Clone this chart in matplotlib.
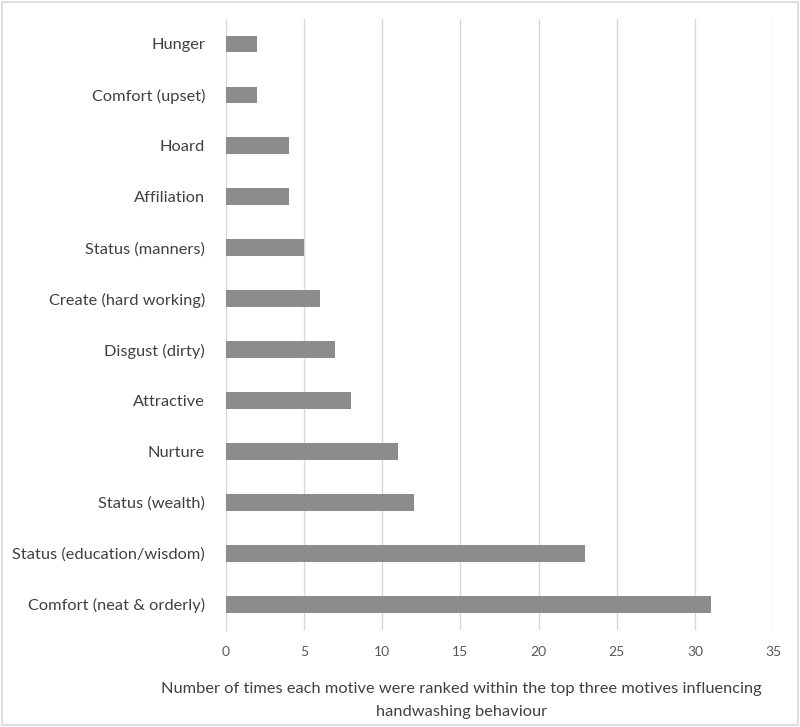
import numpy as np
import matplotlib.pyplot as plt
from matplotlib.patches import Rectangle

plt.rcParams['font.family'] = ['Lato', 'DejaVu Sans']

motives = [
    'Hunger',
    'Comfort (upset)',
    'Hoard',
    'Affiliation',
    'Status (manners)',
    'Create (hard working)',
    'Disgust (dirty)',
    'Attractive',
    'Nurture',
    'Status (wealth)',
    'Status (education/wisdom)',
    'Comfort (neat & orderly)',
]
counts = [2, 2, 4, 4, 5, 6, 7, 8, 11, 12, 23, 31]
xticks = [0, 5, 10, 15, 20, 25, 30, 35]

fig = plt.figure(figsize=(8, 7.27), dpi=100)
axis = fig.add_axes([0.2825, 0.134, 0.6838, 0.8405])

y = np.arange(len(motives))
axis.barh(y, counts, height=0.33, color='#8c8c8c', zorder=3)

axis.set_xlim(0, 35)
axis.set_ylim(len(motives) - 0.5, -0.5)
axis.set_xticks(xticks)
axis.set_yticks(y)
axis.set_yticklabels(motives, fontsize=11.8, color='#404040')
axis.tick_params(axis='x', labelsize=10, colors='#595959', length=0, pad=12)
axis.tick_params(axis='y', length=0, pad=15)
axis.grid(axis='x', color='#d9d9d9', linewidth=1, zorder=0)
for side in ['top', 'right', 'bottom']:
    axis.spines[side].set_visible(False)
axis.spines['left'].set_color('#d9d9d9')

fig.text(0.577, 0.0365, 'Number of times each motive were ranked within the top three motives influencing\nhandwashing behaviour',
         ha='center', va='center', fontsize=11.8, color='#404040', linespacing=1.8)

fig.patches.append(Rectangle((0.003, 0.003), 0.994, 0.994, transform=fig.transFigure,
                             fill=False, edgecolor='#d9d9d9', linewidth=1.2))

plt.savefig('out.png')
